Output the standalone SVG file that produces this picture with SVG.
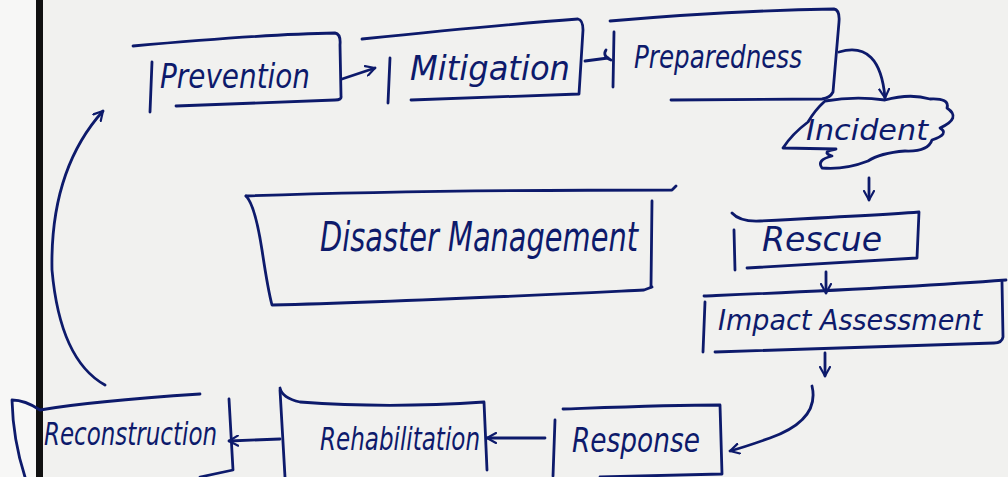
<svg xmlns="http://www.w3.org/2000/svg" width="1008" height="477" viewBox="0 0 1008 477">
  <defs>
    <style>
      .ink { fill: none; stroke: #0d1a6b; stroke-width: 2.8; stroke-linecap: round; stroke-linejoin: round; }
      .label { font-family: "DejaVu Sans", "Liberation Sans", sans-serif; font-style: italic; fill: #0d1a6b; }
    </style>
    <marker id="head" viewBox="0 0 12 12" refX="10" refY="6" markerWidth="12" markerHeight="12" markerUnits="userSpaceOnUse" orient="auto">
      <path d="M1,1 L10,6 L1,11" fill="none" stroke="#0d1a6b" stroke-width="2.2" stroke-linecap="round" stroke-linejoin="round"/>
    </marker>
  </defs>

  <!-- paper -->
  <rect x="0" y="0" width="1008" height="477" fill="#f1f1ef"/>
  <rect x="0" y="0" width="37" height="477" fill="#f7f7f6"/>
  <!-- binding edge -->
  <rect x="36" y="0" width="7" height="477" fill="#111111"/>

  <!-- Prevention -->
  <g id="prevention">
    <path class="ink" d="M133,46 C200,40 270,34 335,33 Q341,34 340,45 L341,96 Q342,100 335,100 L176,106"/>
    <path class="ink" d="M152,62 L150,112"/>
    <text class="label" x="160" y="88" font-size="34" textLength="150" lengthAdjust="spacingAndGlyphs">Prevention</text>
  </g>

  <!-- Mitigation -->
  <g id="mitigation">
    <path class="ink" d="M362,39 C430,32 510,24 578,19 Q583,20 583,30 L579,94 L411,100"/>
    <path class="ink" d="M390,58 L388,103"/>
    <text class="label" x="410" y="80" font-size="34" textLength="160" lengthAdjust="spacingAndGlyphs">Mitigation</text>
  </g>

  <!-- Preparedness -->
  <g id="preparedness">
    <path class="ink" d="M610,21 C690,14 770,10 834,9 Q840,10 839,22 L833,92 Q830,98 822,99 L671,100"/>
    <path class="ink" d="M614,32 L613,87"/>
    <text class="label" x="634" y="68" font-size="32" textLength="168" lengthAdjust="spacingAndGlyphs">Preparedness</text>
  </g>

  <!-- Incident -->
  <g id="incident">
    <path class="ink" d="M825,101 Q855,96 885,100 Q910,93 930,99 Q950,98 947,108 Q962,118 940,128 Q950,134 932,140 Q928,152 905,151 Q880,153 868,161 Q845,170 822,168 Q816,160 832,156 Q820,152 836,149 L783,148 Q792,134 808,122 Q815,110 825,101 Z"/>
    <text class="label" x="806" y="140" font-size="28" textLength="122" lengthAdjust="spacingAndGlyphs">Incident</text>
  </g>

  <!-- Disaster Management -->
  <g id="disaster-management">
    <path class="ink" d="M246,196 C360,192 520,190 672,190 L676,186"/>
    <path class="ink" d="M246,196 Q255,205 262,250 Q268,290 272,305 C400,302 540,295 644,290 L652,287"/>
    <path class="ink" d="M652,201 L651,287"/>
    <text class="label" x="320" y="251" font-size="40" textLength="318" lengthAdjust="spacingAndGlyphs">Disaster Management</text>
  </g>

  <!-- Rescue -->
  <g id="rescue">
    <path class="ink" d="M732,213 Q740,222 760,221 C820,218 880,215 919,212 L917,258 L747,268"/>
    <path class="ink" d="M734,230 L735,270"/>
    <text class="label" x="762" y="251" font-size="34" textLength="120" lengthAdjust="spacingAndGlyphs">Rescue</text>
  </g>

  <!-- Impact Assessment -->
  <g id="impact-assessment">
    <path class="ink" d="M704,296 C800,292 900,288 1006,280"/>
    <path class="ink" d="M1002,282 L1003,337 Q1002,343 994,343 L715,352"/>
    <path class="ink" d="M705,302 L703,352"/>
    <text class="label" x="718" y="330" font-size="29" textLength="264" lengthAdjust="spacingAndGlyphs">Impact Assessment</text>
  </g>

  <!-- Response -->
  <g id="response">
    <path class="ink" d="M563,409 C620,407 670,405 720,405 L722,474 L600,477"/>
    <path class="ink" d="M555,420 L553,476"/>
    <text class="label" x="572" y="452" font-size="34" textLength="128" lengthAdjust="spacingAndGlyphs">Response</text>
  </g>

  <!-- Rehabilitation -->
  <g id="rehabilitation">
    <path class="ink" d="M280,388 Q282,398 300,402 C380,408 440,405 484,402 L487,470"/>
    <path class="ink" d="M280,390 L285,477"/>
    <text class="label" x="320" y="450" font-size="32" textLength="160" lengthAdjust="spacingAndGlyphs">Rehabilitation</text>
  </g>

  <!-- Reconstruction -->
  <g id="reconstruction">
    <path class="ink" d="M200,394 C140,398 80,403 40,410 Q25,400 12,400 Q13,440 25,477"/>
    <path class="ink" d="M229,399 L233,470 L200,477"/>
    <text class="label" x="44" y="445" font-size="32" textLength="173" lengthAdjust="spacingAndGlyphs">Reconstruction</text>
  </g>

  <!-- connectors -->
  <g id="connectors">
    <path class="ink" d="M342,79 L375,68" marker-end="url(#head)"/>
    <path class="ink" d="M585,61 L608,58"/>
    <path class="ink" d="M606,50 Q602,56 611,60"/>
    <path class="ink" d="M839,52 Q880,40 885,98" marker-end="url(#head)"/>
    <path class="ink" d="M869,178 L869,200" marker-end="url(#head)"/>
    <path class="ink" d="M826,272 L826,293" marker-end="url(#head)"/>
    <path class="ink" d="M825,353 L825,376" marker-end="url(#head)"/>
    <path class="ink" d="M812,386 Q820,420 770,438 Q745,447 730,451" marker-end="url(#head)"/>
    <path class="ink" d="M545,438 L487,438" marker-end="url(#head)"/>
    <path class="ink" d="M280,439 L229,441" marker-end="url(#head)"/>
    <path class="ink" d="M105,385 Q60,360 52,270 Q50,170 103,111" marker-end="url(#head)"/>
  </g>
</svg>
